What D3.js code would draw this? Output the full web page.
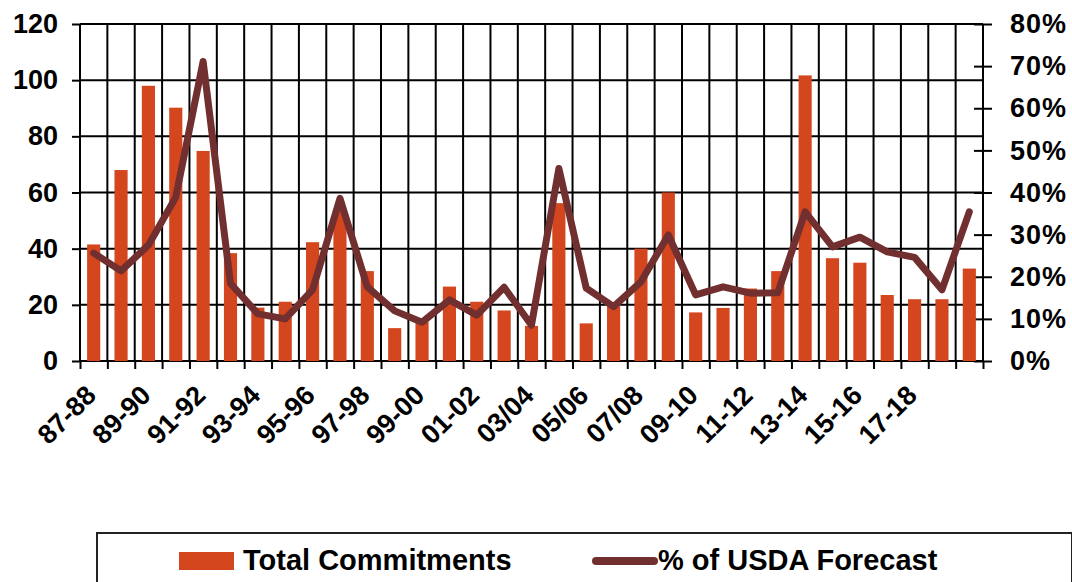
<!DOCTYPE html>
<html>
<head>
<meta charset="utf-8">
<script src="https://cdn.jsdelivr.net/npm/d3@7"></script>
<style>
  body { margin: 0; background: #fff; }
  #container { width: 1072px; height: 582px; }
  text { font-family: "Liberation Sans", Arial, sans-serif; font-weight: bold; fill: #000; }
</style>
</head>
<body>
<div id="container"></div>
<script>

// categories (crop years), only every other one gets a label
var categories = ['87-88','88-89','89-90','90-91','91-92','92-93','93-94','94-95','95-96','96-97',
	'97-98','98-99','99-00','00-01','01-02','02-03','03/04','04/05','05/06','06/07',
	'07/08','08/09','09-10','10-11','11-12','12-13','13-14','14-15','15-16','16-17',
	'17-18','18-19','19-20'];
var tickLabels = ['87-88','89-90','91-92','93-94','95-96','97-98','99-00','01-02',
	'03/04','05/06','07/08','09-10','11-12','13-14','15-16','17-18'];

// Total Commitments (left axis)
var commitments = [41.5, 68, 98, 90.2, 74.8, 38.4, 19, 21.1, 42.3, 54,
	32, 11.7, 14, 26.5, 21.1, 18, 12.5, 56.2, 13.4, 19.5,
	40, 60, 17.3, 18.9, 25.8, 32, 101.7, 36.6, 35, 23.5,
	22, 22, 32.9];

// % of USDA Forecast (right axis)
var pctForecast = [0.256, 0.214, 0.275, 0.389, 0.711, 0.184, 0.112, 0.100, 0.169, 0.386,
	0.176, 0.119, 0.092, 0.145, 0.109, 0.175, 0.085, 0.457, 0.173, 0.129,
	0.188, 0.299, 0.157, 0.176, 0.161, 0.162, 0.354, 0.271, 0.294, 0.259,
	0.246, 0.169, 0.354];

var leftTicks = [0, 20, 40, 60, 80, 100, 120];
var rightTicks = [0, 0.1, 0.2, 0.3, 0.4, 0.5, 0.6, 0.7, 0.8];

function render() {
	var width = 1072, height = 582;
	var plot = {left: 80, right: 983, top: 24, bottom: 361};

	var svg = d3.select('#container')
		.append('svg')
		.attr('width', width)
		.attr('height', height);

	var x = d3.scaleBand()
		.domain(categories)
		.range([plot.left, plot.right])
		.padding(0);
	// boundary scale for grid lines / ticks between categories
	var xIdx = d3.scaleLinear()
		.domain([0, categories.length])
		.range([plot.left, plot.right]);
	var yL = d3.scaleLinear().domain([0, 120]).range([plot.bottom, plot.top]);
	var yR = d3.scaleLinear().domain([0, 0.8]).range([plot.bottom, plot.top]);

	// grid
	svg.append('g')
		.selectAll('line')
		.data(leftTicks)
		.enter()
		.append('line')
		.attr('x1', plot.left).attr('x2', plot.right)
		.attr('y1', d => yL(d)).attr('y2', d => yL(d))
		.attr('stroke', '#000').attr('stroke-width', 2);

	svg.append('g')
		.selectAll('line')
		.data(d3.range(categories.length + 1))
		.enter()
		.append('line')
		.attr('x1', d => xIdx(d)).attr('x2', d => xIdx(d))
		.attr('y1', plot.top).attr('y2', plot.bottom)
		.attr('stroke', '#000').attr('stroke-width', 2);

	// left axis
	var left = svg.append('g')
		.attr('transform', 'translate(' + plot.left + ',0)')
		.call(d3.axisLeft(yL).tickValues(leftTicks).tickSize(8).tickPadding(14));
	left.select('.domain').remove();
	left.selectAll('line').attr('stroke', '#000').attr('stroke-width', 2);
	left.selectAll('text').style('font-size', '27px').attr('fill', '#000');

	// right axis (ticks cross the axis line)
	var right = svg.append('g')
		.attr('transform', 'translate(' + (plot.right - 9) + ',0)')
		.call(d3.axisRight(yR).tickValues(rightTicks).tickSize(18).tickPadding(18)
			.tickFormat(d3.format('.0%')));
	right.select('.domain').remove();
	right.selectAll('line').attr('stroke', '#000').attr('stroke-width', 2);
	right.selectAll('text').style('font-size', '27px').style('letter-spacing', '1px').attr('fill', '#000');

	// bottom ticks between categories
	var bottom = svg.append('g')
		.attr('transform', 'translate(0,' + plot.bottom + ')')
		.call(d3.axisBottom(xIdx).tickValues(d3.range(categories.length + 1)).tickSize(8).tickFormat(''));
	bottom.select('.domain').remove();
	bottom.selectAll('line').attr('stroke', '#000').attr('stroke-width', 2);

	// bars
	var barW = x.bandwidth() * 0.48;
	svg.append('g')
		.selectAll('rect')
		.data(commitments)
		.enter()
		.append('rect')
		.attr('x', (d, i) => x(categories[i]) + (x.bandwidth() - barW) / 2)
		.attr('y', d => yL(d))
		.attr('width', barW)
		.attr('height', d => yL(0) - yL(d))
		.attr('fill', '#D4461E');

	// line
	var line = d3.line()
		.x((d, i) => x(categories[i]) + x.bandwidth() / 2)
		.y(d => yR(d));
	svg.append('path')
		.datum(pctForecast)
		.attr('d', line)
		.attr('fill', 'none')
		.attr('stroke', '#722F2F')
		.attr('stroke-width', 7)
		.attr('stroke-linejoin', 'round')
		.attr('stroke-linecap', 'round');

	// category labels, rotated
	svg.append('g')
		.selectAll('text')
		.data(tickLabels)
		.enter()
		.append('text')
		.attr('transform', d => 'translate(' + (x(d) + x.bandwidth() / 2 + 4) + ',397) rotate(-45)')
		.attr('text-anchor', 'end')
		.style('font-size', '27px')
		.text(d => d);

	// legend
	var lg = svg.append('g');
	lg.append('rect')
		.attr('x', 97).attr('y', 533)
		.attr('width', 975).attr('height', 60)
		.attr('fill', 'none')
		.attr('stroke', '#222')
		.attr('stroke-width', 2);
	lg.append('rect')
		.attr('x', 179).attr('y', 552)
		.attr('width', 55).attr('height', 18)
		.attr('fill', '#D4461E');
	lg.append('text')
		.attr('x', 243).attr('y', 570)
		.style('font-size', '29px')
		.text('Total Commitments');
	lg.append('line')
		.attr('x1', 596).attr('x2', 654)
		.attr('y1', 561).attr('y2', 561)
		.attr('stroke', '#722F2F')
		.attr('stroke-width', 8)
		.attr('stroke-linecap', 'round');
	lg.append('text')
		.attr('x', 658).attr('y', 570)
		.style('font-size', '29px')
		.text('% of USDA Forecast');
}

render();
</script>
</body>
</html>
